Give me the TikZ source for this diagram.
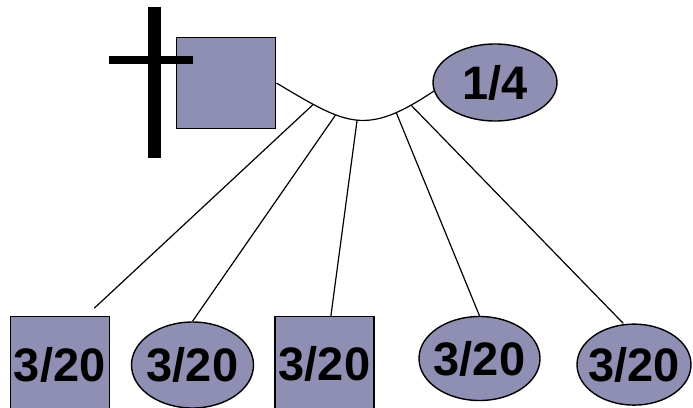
\documentclass[tikz,border=0pt]{standalone}
\usepackage{fontspec}
\setmainfont{Liberation Sans}
\usetikzlibrary{shapes.geometric}
\definecolor{lav}{RGB}{143,143,180}
\newcommand{\ovtext}[1]{\makebox[60pt]{#1}}
\tikzset{
  fr/.style = {fill=lav, draw=black, line width=1.4pt, inner sep=0pt,
               font=\bfseries\fontsize{47}{50}\selectfont},
  sqbox/.style = {fr, rectangle},
  ovbox/.style = {fr, ellipse},
  link/.style = {line width=1.2pt}
}

\begin{document}
\begin{tikzpicture}[x=1pt, y=-1pt]
\useasboundingbox (0,0) rectangle (693,407);
\node[sqbox, minimum width=99pt, minimum height=91pt] (par) at (226.2,83) {};
\draw[line width=12.7pt] (154.7,6.7) -- (154.7,158);
\draw[line width=8.3pt] (109,60.2) -- (192.7,60.2);
\node[ovbox, minimum width=124pt, minimum height=77pt] (p) at (495,82.5) {1/4};
\draw[link] (par.east) .. controls (347,125) and (365,137) .. (p.188)
  coordinate[pos=.2] (b1) coordinate[pos=.35] (b2) coordinate[pos=.51] (b3)
  coordinate[pos=.79] (b4) coordinate[pos=.88] (b5);
\node[sqbox, minimum width=99pt, minimum height=97pt] (k1) at (59.7,365) {3/20};
\node[ovbox, minimum width=122pt, minimum height=86pt] (k2) at (192.5,365) {\ovtext{3/20}};
\node[sqbox, minimum width=99pt, minimum height=94pt] (k3) at (324.5,363.7) {3/20};
\node[ovbox, minimum width=121pt, minimum height=84pt] (k4) at (479.5,358.5) {\ovtext{3/20}};
\node[ovbox, minimum width=114pt, minimum height=81pt] (k5) at (634,364.6) {\ovtext{3/20}};
\draw[link, shorten >=11.2pt] (b1) -- ([xshift=26.4pt]k1.north);
\draw[link] (b2) -- (k2.north);
\draw[link] (b3) -- (k3);
\draw[link] (b4) -- (k4.north);
\draw[link] (b5) -- ([xshift=-10.7pt]k5.north);
\end{tikzpicture}
\end{document}
